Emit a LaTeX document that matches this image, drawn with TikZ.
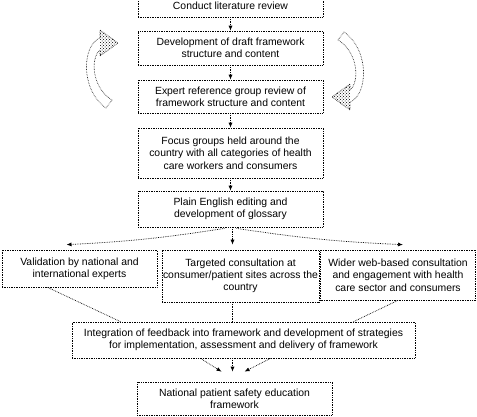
\documentclass[tikz,border=0pt]{standalone}
\usepackage{fontspec}
\setmainfont{Liberation Sans}
\usetikzlibrary{arrows.meta,patterns}
\tikzset{
  box/.style={draw, densely dotted, line width=0.7pt, align=center, inner sep=1pt,
    font=\fontsize{10.4}{12.3}\selectfont},
  conn/.style={densely dotted, line width=0.7pt, -{Latex[length=5pt,width=4pt]}},
  link/.style={densely dotted, line width=0.7pt},
  curv/.style={densely dotted, line width=0.6pt},
}
\newcommand{\curvarrow}{%
  \fill[pattern=crosshatch dots] (100,50) -- (100,56) -- (118,43) -- (100,30) -- (100,38) -- cycle;
  \draw[curv] (100,50) -- (100,56) -- (118,43) -- (100,30) -- (100,38)
     .. controls (82,45) and (80,90) .. (106,108) -- (112,100)
     .. controls (92,88) and (90,58) .. (100,50) -- cycle;
}
\begin{document}
\begin{tikzpicture}[x=1pt,y=-1pt]
\useasboundingbox (0,0) rectangle (477,416);
\node[box, minimum width=185pt, minimum height=22pt] (b1) at (230.5,6) {Conduct literature review};
\node[box, minimum width=185pt, minimum height=34pt] (b2) at (230.5,48) {Development of draft framework\\structure and content};
\node[box, minimum width=185pt, minimum height=33pt] (b3) at (230.5,96.5) {Expert reference group review of\\framework structure and content};
\node[box, minimum width=185pt, minimum height=50pt] (b4) at (230.5,153) {Focus groups held around the\\country with all categories of health\\care workers and consumers};
\node[box, minimum width=185pt, minimum height=36pt] (b5) at (230.5,209) {Plain English editing and\\development of glossary};
\node[box, minimum width=155pt, minimum height=37pt] (l) at (79.5,268.5) {Validation by national and\\international experts};
\node[box, minimum width=153pt, minimum height=52pt] (m) at (240.5,276) {Targeted consultation at\\consumer/patient sites across the\\country};
\node[box, minimum width=155pt, minimum height=50pt] (r) at (398,275) {Wider web-based consultation\\and engagement with health\\care sector and consumers};
\node[box, minimum width=343pt, minimum height=36pt] (i) at (243.5,340) {Integration of feedback into framework and development of strategies\\for implementation, assessment and delivery of framework};
\node[box, minimum width=195pt, minimum height=33pt] (f) at (234.5,398.5) {National patient safety education\\framework};

\draw[conn] (b1.south) -- (b2.north);
\draw[conn] (b2.south) -- (b3.north);
\draw[conn] (b3.south) -- (b4.north);
\draw[conn] (b4.south) -- (b5.north);

\draw[conn] ([xshift=-6pt,yshift=-1pt]b5.south) to[bend left=3] ([xshift=-13pt,yshift=5pt]l.north);
\draw[conn] ([xshift=6pt,yshift=-1pt]b5.south) to[bend right=3] ([xshift=5pt,yshift=5pt]r.north);
\draw[conn] ([xshift=2pt]b5.south) -- ([xshift=-8pt,yshift=5pt]m.north);

\draw[link] ([xshift=-32pt]l.south) -- ([xshift=-123pt]i.north);
\draw[link] ([xshift=-8pt]m.south) -- ([xshift=-11pt]i.north);
\draw[link] ([xshift=110pt]i.north) -- ([xshift=0pt]r.south);

\draw[conn] ([xshift=-43pt]i.south) -- ([xshift=-13pt,yshift=10pt]f.north);
\draw[conn] ([xshift=-11pt]i.south) -- ([xshift=-2pt,yshift=10pt]f.north);
\draw[conn] ([xshift=27pt]i.south) -- ([xshift=10pt,yshift=10pt]f.north);

\curvarrow
\begin{scope}[rotate around={180:(225,70)}]
\curvarrow
\end{scope}
\end{tikzpicture}
\end{document}
